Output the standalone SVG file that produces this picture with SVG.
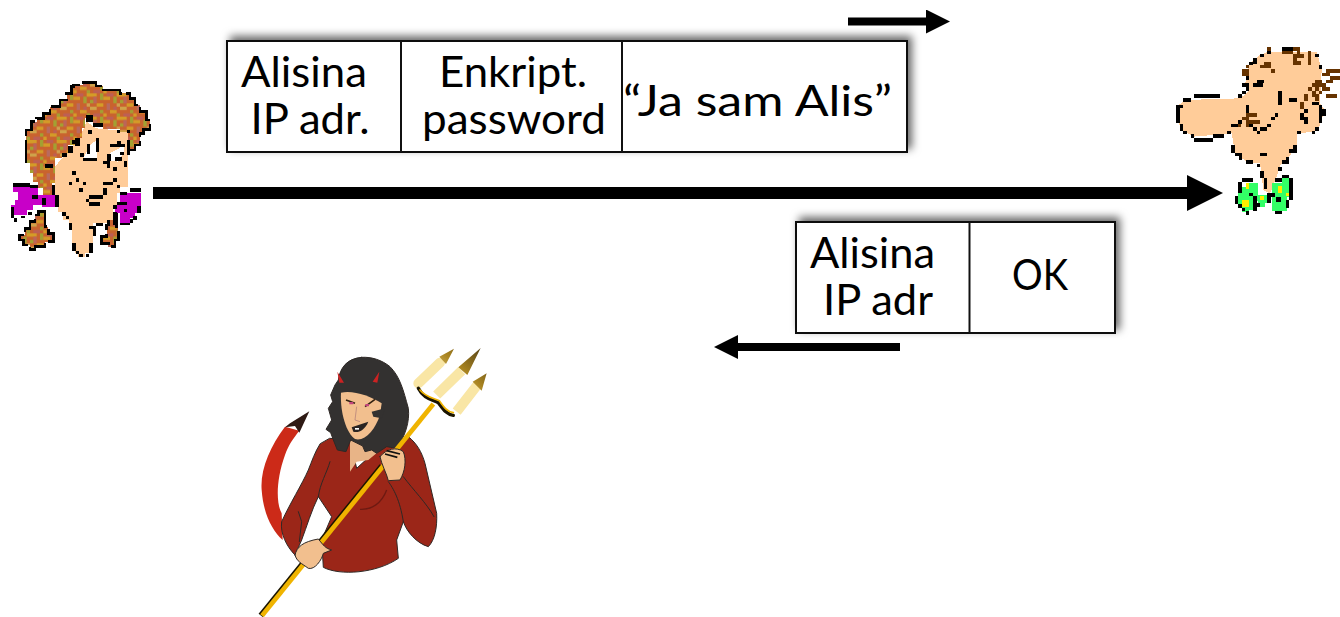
<svg xmlns="http://www.w3.org/2000/svg" width="1340" height="617" viewBox="0 0 1340 617">
<style>
.box{fill:#fff;stroke:#111;stroke-width:2}
.div{stroke:#111;stroke-width:2}
.t{font-family:"Lato","Carlito","Open Sans",sans-serif;font-size:43px;fill:#000;text-anchor:middle}
.conn{stroke:#000;fill:none}
.px{shape-rendering:crispEdges}
.k{fill:#000}
.br{fill:#663300}
.ol{stroke:#000;stroke-width:8;stroke-dasharray:70 12}
.skin{fill:#ffcc99}
.mag{fill:#c800c8}
.gr{fill:#33ff66}
.ye{fill:#ffee00}
.dk{stroke:#2e2825;stroke-width:3;stroke-linejoin:round;stroke-linecap:round}
</style>
<defs>
<filter id="sh" x="-8%" y="-25%" width="116%" height="150%"><feDropShadow dx="4" dy="-4" stdDeviation="4" flood-color="#000" flood-opacity=".6"/></filter>
<marker id="ah" markerWidth="3" markerHeight="3" refX="0" refY="1.5" orient="auto"><path d="M0,0L3,1.5L0,3Z" fill="#000"/></marker>
<pattern id="hair" width="90" height="70" patternUnits="userSpaceOnUse">
<rect width="90" height="70" fill="#c9632e"/>
<rect x="0" y="0" width="20" height="10" fill="#d49c28"/><rect x="30" y="0" width="10" height="20" fill="#a3a032"/><rect x="50" y="0" width="20" height="10" fill="#bd5f55"/><rect x="80" y="0" width="10" height="10" fill="#d49c28"/>
<rect x="10" y="10" width="10" height="20" fill="#bc6558"/><rect x="40" y="10" width="20" height="10" fill="#d49c28"/><rect x="70" y="10" width="10" height="20" fill="#a3a032"/>
<rect x="0" y="20" width="10" height="10" fill="#a3a032"/><rect x="20" y="30" width="20" height="10" fill="#d49c28"/><rect x="50" y="30" width="10" height="20" fill="#b86a60"/><rect x="80" y="30" width="10" height="10" fill="#cfa050"/>
<rect x="0" y="40" width="20" height="10" fill="#cfa34a"/><rect x="30" y="50" width="10" height="10" fill="#a3a032"/><rect x="60" y="50" width="20" height="10" fill="#d49c28"/>
<rect x="10" y="60" width="20" height="10" fill="#bd5f55"/><rect x="40" y="60" width="10" height="10" fill="#d49c28"/><rect x="80" y="60" width="10" height="10" fill="#a3a032"/><rect x="70" y="40" width="10" height="10" fill="#bd5f55"/>
</pattern>
<linearGradient id="tip" x1="0" y1="1" x2="1" y2="0"><stop offset="0" stop-color="#f3dc90"/><stop offset=".5" stop-color="#a98420"/><stop offset="1" stop-color="#4a3a18"/></linearGradient>
</defs>

<g id="connectors">
<line class="conn" x1="153" y1="193" x2="1187" y2="193" stroke-width="12" marker-end="url(#ah)"/>
<line class="conn" x1="848" y1="21.5" x2="926" y2="21.5" stroke-width="8" marker-end="url(#ah)"/>
<line class="conn" x1="900" y1="347" x2="738" y2="347" stroke-width="8" marker-end="url(#ah)"/>
</g>

<g id="packet-request">
<rect class="box" x="227" y="41" width="680" height="111" filter="url(#sh)"/>
<line class="div" x1="401" y1="41" x2="401" y2="152"/>
<line class="div" x1="622" y1="41" x2="622" y2="152"/>
<text class="t" x="304" y="87" textLength="126" lengthAdjust="spacingAndGlyphs">Alisina</text>
<text class="t" x="310" y="134" textLength="119" lengthAdjust="spacingAndGlyphs">IP adr.</text>
<text class="t" x="513" y="87" textLength="148" lengthAdjust="spacingAndGlyphs">Enkript.</text>
<text class="t" x="514" y="134" textLength="184" lengthAdjust="spacingAndGlyphs">password</text>
<text class="t" x="757.500" y="116" textLength="269" lengthAdjust="spacingAndGlyphs">“Ja sam Alis”</text>
</g>

<g id="packet-reply">
<rect class="box" x="796" y="222" width="319" height="111" filter="url(#sh)"/>
<line class="div" x1="969.500" y1="222" x2="969.500" y2="333"/>
<text class="t" x="872.500" y="268" textLength="125" lengthAdjust="spacingAndGlyphs">Alisina</text>
<text class="t" x="878" y="315" textLength="110" lengthAdjust="spacingAndGlyphs">IP adr</text>
<text class="t" x="1040" y="290" textLength="56" lengthAdjust="spacingAndGlyphs">OK</text>
</g>

<g id="alice" transform="translate(0,70) scale(.33333)" class="px">
<path class="ol" fill="url(#hair)" d="M115,425H135V470H145V490H160V515H135V530H105V538H90V525H70V510H58V495H75V475H90V455H105V435H115Z"/>
<path class="ol" fill="url(#hair)" d="M325,430H350V470H355V510H345V530H325V520H305V500H320V465H325Z"/>
<path class="mag" d="M40,348H115V375H165V410H125V405H100V420H80V435H40V445H32V405H45V390H55V365H40Z"/>
<path class="mag" d="M345,405H360V368H422V430H405V445H390V458H360V430H345Z"/>
<path class="skin" d="M165,290L240,200L260,155L290,175L385,185V350H360V370H350V410H340V450H320V460H280V530H268V550H255V560H235V550H225V530H215V480H207V450H190V425H175V390H165Z"/>
<path fill="url(#hair)" d="M220,50V45H250V38H288V48H310V60H360V70H390V85H405V105H420V125H440V150H450V178H430V190H420V225H405V240H385V185H360V178H310V168H280V155H262V145H255V175H245V205H225V225H205V250H185V265H165V340H155V375H130V355H115V335H100V310H90V280H78V180H95V155H110V145H130V130H150V110H180V90H200V70H215V50Z"/>
<path class="ol" fill="none" d="M78,280V180H95V155H110V145H130V130H150V110H180V90H200V70H215V50H220V45H250V38H288V48H310V60H360V70H390V85H405V105H420V125H440V150H450V178H430V190H420V225H405V240H385"/>
<path fill="#fff" d="M250,265L270,225L290,210V265Z"/><path fill="#fff" d="M330,250L375,225L370,250L355,275L325,270Z"/>
<g class="k">
<rect x="258" y="135" width="22" height="20"/><rect x="280" y="158" width="30" height="12"/><rect x="350" y="180" width="10" height="10"/><rect x="380" y="180" width="10" height="10"/><rect x="225" y="205" width="15" height="22"/><rect x="205" y="228" width="15" height="22"/><rect x="185" y="250" width="15" height="12"/><rect x="135" y="282" width="25" height="12"/>
<rect x="240" y="250" width="12" height="12"/><rect x="250" y="265" width="40" height="8"/><rect x="288" y="205" width="10" height="40"/><rect x="260" y="222" width="10" height="30"/><rect x="265" y="180" width="12" height="12"/><rect x="215" y="210" width="22" height="12"/>
<rect x="310" y="272" width="20" height="10"/><rect x="330" y="222" width="45" height="10"/><rect x="350" y="212" width="12" height="10"/><rect x="322" y="252" width="12" height="20"/><rect x="345" y="262" width="20" height="12"/><rect x="360" y="245" width="12" height="10"/><rect x="380" y="210" width="10" height="45"/><rect x="340" y="292" width="12" height="10"/><rect x="372" y="272" width="10" height="20"/><rect x="320" y="282" width="10" height="12"/>
<rect x="215" y="302" width="12" height="12"/><rect x="228" y="323" width="10" height="12"/><rect x="207" y="335" width="10" height="10"/><rect x="248" y="335" width="10" height="10"/><rect x="238" y="353" width="12" height="12"/><rect x="310" y="335" width="30" height="10"/><rect x="340" y="323" width="12" height="12"/><rect x="350" y="345" width="10" height="10"/><rect x="310" y="355" width="12" height="20"/><rect x="268" y="375" width="42" height="12"/><rect x="258" y="387" width="10" height="8"/><rect x="268" y="396" width="32" height="12"/>
<rect x="165" y="375" width="12" height="35"/><rect x="155" y="345" width="10" height="30"/><rect x="125" y="385" width="12" height="20"/><rect x="95" y="375" width="20" height="12"/><rect x="40" y="340" width="50" height="10"/><rect x="90" y="345" width="25" height="8"/><rect x="32" y="410" width="10" height="35"/><rect x="42" y="445" width="10" height="12"/><rect x="62" y="437" width="12" height="8"/><rect x="85" y="425" width="10" height="10"/>
<rect x="185" y="425" width="12" height="12"/><rect x="197" y="437" width="10" height="10"/><rect x="207" y="460" width="10" height="20"/><rect x="215" y="520" width="12" height="22"/><rect x="227" y="542" width="10" height="10"/><rect x="237" y="552" width="12" height="10"/><rect x="258" y="552" width="10" height="10"/><rect x="268" y="520" width="10" height="30"/><rect x="268" y="468" width="20" height="10"/><rect x="278" y="478" width="10" height="20"/><rect x="288" y="460" width="22" height="8"/>
<rect x="360" y="365" width="20" height="10"/><rect x="390" y="353" width="32" height="12"/><rect x="350" y="395" width="30" height="10"/><rect x="340" y="405" width="12" height="12"/><rect x="372" y="418" width="8" height="8"/><rect x="410" y="408" width="12" height="22"/><rect x="400" y="437" width="10" height="12"/><rect x="390" y="448" width="10" height="10"/><rect x="360" y="458" width="30" height="8"/><rect x="338" y="425" width="12" height="40"/>
</g>
</g>

<g id="bob" transform="translate(1160,30) scale(.33333)" class="px">
<path class="skin" d="M325,65H470L485,120L480,220L495,240L480,285L465,305L410,310V345L385,385L360,405L350,440L330,490L310,480L300,400L260,395L225,370L215,310L100,320L60,295L50,230L75,210L240,205L265,185L255,165L265,105L300,75Z"/>
<path class="gr" d="M235,490H245V470H258V458H295V510H290V540H268V555H258V545H245V525H235Z"/>
<path class="gr" d="M335,460H365V445H387V500H380V543H335Z"/>
<path class="gr" d="M290,495H325V520H315V530H295Z"/>
<g class="ye"><rect x="258" y="458" width="10" height="20"/><rect x="245" y="510" width="22" height="20"/><rect x="353" y="468" width="12" height="20"/><rect x="300" y="498" width="12" height="12"/><rect x="378" y="490" width="10" height="8"/></g>
<g class="k">
<rect x="102" y="192" width="78" height="12"/><rect x="68" y="204" width="25" height="12"/><rect x="48" y="225" width="20" height="10"/><rect x="48" y="235" width="12" height="45"/><rect x="60" y="282" width="10" height="20"/><rect x="70" y="302" width="10" height="10"/><rect x="93" y="312" width="10" height="12"/><rect x="102" y="323" width="58" height="12"/><rect x="160" y="312" width="32" height="12"/><rect x="200" y="303" width="12" height="10"/><rect x="212" y="282" width="22" height="8"/><rect x="234" y="270" width="12" height="12"/><rect x="234" y="192" width="12" height="12"/><rect x="246" y="182" width="12" height="10"/><rect x="246" y="160" width="22" height="12"/><rect x="258" y="172" width="10" height="10"/><rect x="278" y="160" width="32" height="10"/><rect x="290" y="150" width="22" height="10"/><rect x="258" y="135" width="10" height="15"/><rect x="268" y="95" width="12" height="10"/><rect x="278" y="85" width="12" height="18"/><rect x="300" y="72" width="12" height="10"/><rect x="320" y="62" width="12" height="10"/><rect x="365" y="50" width="35" height="12"/><rect x="465" y="72" width="12" height="10"/><rect x="477" y="105" width="10" height="12"/>
<rect x="355" y="182" width="11" height="42"/><rect x="388" y="204" width="24" height="11"/><rect x="455" y="215" width="22" height="10"/><rect x="258" y="225" width="10" height="25"/><rect x="345" y="250" width="10" height="10"/><rect x="334" y="260" width="11" height="10"/><rect x="268" y="282" width="10" height="8"/><rect x="278" y="292" width="12" height="12"/><rect x="290" y="303" width="10" height="10"/><rect x="300" y="292" width="22" height="12"/><rect x="322" y="282" width="10" height="10"/><rect x="420" y="250" width="12" height="20"/><rect x="432" y="260" width="12" height="22"/><rect x="432" y="238" width="12" height="10"/><rect x="477" y="225" width="10" height="15"/><rect x="477" y="238" width="20" height="20"/><rect x="477" y="258" width="10" height="22"/><rect x="465" y="292" width="12" height="10"/><rect x="455" y="302" width="10" height="10"/><rect x="410" y="302" width="12" height="10"/>
<rect x="213" y="345" width="12" height="25"/><rect x="225" y="368" width="20" height="10"/><rect x="237" y="378" width="10" height="12"/><rect x="258" y="390" width="22" height="12"/><rect x="290" y="402" width="10" height="10"/><rect x="300" y="368" width="22" height="10"/><rect x="300" y="423" width="12" height="22"/><rect x="353" y="412" width="12" height="12"/><rect x="378" y="380" width="10" height="22"/><rect x="367" y="390" width="10" height="12"/><rect x="388" y="358" width="22" height="12"/><rect x="400" y="345" width="10" height="15"/>
<rect x="245" y="445" width="35" height="12"/><rect x="235" y="457" width="10" height="33"/><rect x="225" y="497" width="10" height="25"/><rect x="235" y="522" width="10" height="12"/><rect x="245" y="534" width="10" height="10"/><rect x="267" y="488" width="12" height="10"/><rect x="280" y="498" width="10" height="45"/><rect x="290" y="520" width="10" height="10"/><rect x="312" y="445" width="10" height="32"/><rect x="322" y="490" width="12" height="30"/><rect x="334" y="490" width="12" height="12"/><rect x="345" y="445" width="22" height="12"/><rect x="367" y="435" width="20" height="10"/><rect x="387" y="445" width="12" height="65"/><rect x="378" y="510" width="10" height="24"/><rect x="348" y="500" width="14" height="16"/><rect x="345" y="543" width="22" height="10"/><rect x="258" y="543" width="10" height="12"/>
</g>
<g class="br">
<rect x="320" y="50" width="12" height="12"/><rect x="365" y="62" width="35" height="10"/><rect x="400" y="50" width="20" height="12"/><rect x="410" y="62" width="10" height="10"/><rect x="400" y="72" width="32" height="12"/><rect x="400" y="82" width="12" height="22"/><rect x="412" y="92" width="10" height="12"/><rect x="443" y="62" width="10" height="42"/>
<rect x="312" y="95" width="20" height="12"/><rect x="300" y="105" width="32" height="10"/><rect x="333" y="117" width="12" height="12"/><rect x="258" y="105" width="10" height="10"/><rect x="246" y="117" width="22" height="20"/>
<rect x="498" y="117" width="42" height="12"/><rect x="487" y="128" width="22" height="10"/><rect x="510" y="138" width="30" height="12"/><rect x="498" y="150" width="22" height="10"/><rect x="465" y="150" width="22" height="10"/><rect x="455" y="160" width="42" height="12"/><rect x="465" y="172" width="12" height="10"/><rect x="487" y="172" width="22" height="10"/><rect x="445" y="172" width="10" height="10"/><rect x="455" y="182" width="12" height="20"/><rect x="477" y="182" width="10" height="10"/><rect x="498" y="192" width="33" height="12"/><rect x="432" y="192" width="12" height="22"/><rect x="465" y="192" width="12" height="22"/><rect x="420" y="215" width="12" height="22"/>
<rect x="258" y="250" width="32" height="10"/><rect x="246" y="260" width="22" height="10"/><rect x="258" y="270" width="42" height="12"/><rect x="258" y="282" width="10" height="8"/><rect x="234" y="282" width="10" height="8"/>
</g>
</g>

<g id="eve" transform="translate(240,340) scale(.33333)">
<path fill="#cc2a18" d="M135,260C90,320 60,390 65,450C70,520 95,570 128,600L125,520C108,490 108,420 135,345C145,315 160,295 178,272Z"/>
<path fill="#2e1a14" d="M135,262L150,250L208,214L178,278L165,258Z"/>
<path fill="#9b2618" class="dk" d="M240,312C225,335 215,365 205,390C185,435 150,490 125,545C120,580 140,620 165,645L185,600C200,560 215,510 235,470L275,530L245,600L250,682C300,708 410,700 475,655L470,600L490,545C500,575 530,610 565,620C585,600 592,560 590,520L555,370C545,335 530,310 505,290L410,330L350,385L330,300L270,295Z"/>
<path fill="none" class="dk" d="M270,365C260,400 240,430 235,470M490,410C520,450 560,490 582,530M445,425C460,445 480,480 490,545M175,515L185,545L178,605"/>
<path fill="none" stroke="#6e1a12" stroke-width="4" d="M440,450C425,490 395,510 360,508"/>
<path fill="#e8b487" d="M330,290L400,280L415,335L385,360L350,365L330,395Z"/>
<path fill="#333130" class="dk" d="M365,52C320,55 300,85 295,120L285,135L272,165L278,185L265,205L275,240L258,268L272,278L280,300L292,330L318,335L332,300L368,318L375,335L395,330L410,340L440,320L470,325C495,290 510,245 505,205C490,150 480,110 450,80C425,60 395,50 365,52Z"/>
<path fill="#f2bf8e" d="M303,158C340,150 390,168 425,190L420,225C405,270 375,305 345,297C320,280 300,220 303,158Z"/>
<path fill="#333130" d="M395,215L435,205L425,235L400,230Z"/>
<path fill="#2a2422" d="M335,262L385,245C375,270 355,280 340,275Z"/>
<path fill="#fff" d="M345,264h12v5h-12z"/>
<path fill="#c22" d="M292,95L312,128L298,128ZM418,95L412,128L398,125Z"/>
<path stroke="#321" stroke-width="5" fill="none" d="M318,180L345,190M375,200L405,178"/>
<path fill="#c2447c" d="M328,186h12v7h-12zM376,192h11v7h-11z"/>
<path fill="none" stroke="#a77" stroke-width="2" d="M350,200L345,240L360,245"/>
<path stroke="#1a1400" stroke-width="16" d="M62,826L425,378"/>
<path stroke="#f0b400" stroke-width="14" d="M66,827L580,192"/>
<path fill="none" stroke="#f9e6a5" stroke-width="30" stroke-linecap="round" d="M535,130L600,68"/>
<path fill="none" stroke="#f9e6a5" stroke-width="30" d="M590,165L665,92M650,215L712,135"/>
<path fill="none" stroke="#1a1400" stroke-width="10" stroke-linecap="round" d="M535,145C550,175 575,178 595,188C610,208 620,224 640,226"/>
<path fill="none" stroke="#f0b400" stroke-width="5" stroke-linecap="round" d="M540,150C558,172 575,172 598,182C612,202 622,216 640,218"/>
<path fill="url(#tip)" d="M598,50L642,26L618,72ZM655,82L722,24L682,105ZM698,125L740,100L725,152Z"/>
<path fill="#f2bf8e" class="dk" d="M420,350C440,325 470,320 490,335C500,360 495,395 480,420L445,422C440,400 425,375 420,350Z"/>
<path stroke="#111" stroke-width="5" fill="none" d="M440,332L480,342M435,342L472,352"/>
<path fill="#f2bf8e" class="dk" d="M165,645C170,620 190,605 235,597C250,615 255,625 275,630L250,640C245,660 225,690 205,685C185,670 170,665 165,645Z"/>
</g>
</svg>
